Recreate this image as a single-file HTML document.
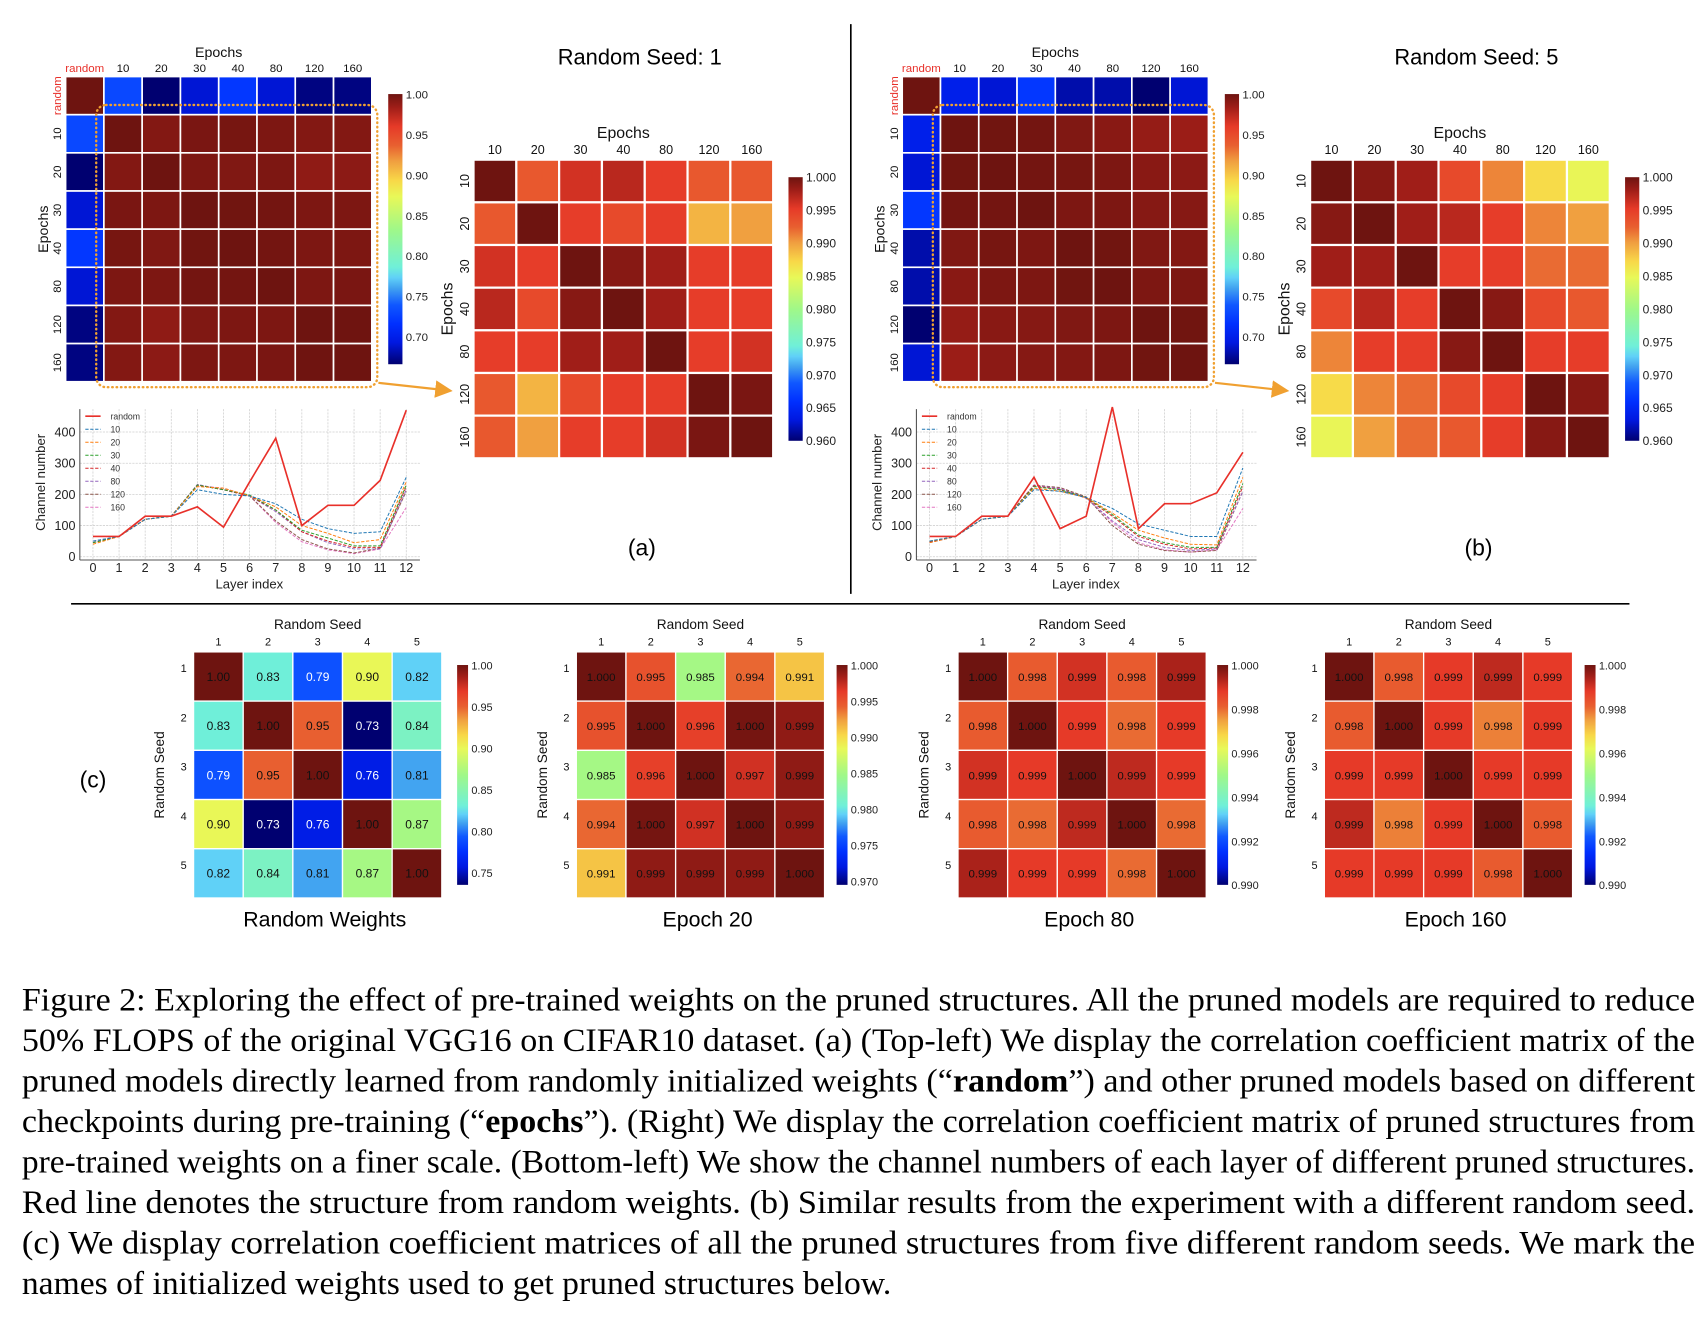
<!DOCTYPE html>
<html><head><meta charset="utf-8"><style>
html,body{margin:0;padding:0;background:#fff;}
svg{display:block;}
text{font-family:"Liberation Sans",sans-serif;}
text.cap{font-family:"Liberation Serif",serif;font-size:30px;fill:#000;}
</style></head><body>
<svg id="fig" width="1706" height="1318" viewBox="0 0 1560 1205" preserveAspectRatio="none" xmlns="http://www.w3.org/2000/svg">
<defs>
<linearGradient id="cmapGrad" x1="0" y1="1" x2="0" y2="0">
<stop offset="0" stop-color="#000070"/><stop offset="0.08" stop-color="#0018e0"/><stop offset="0.15" stop-color="#0030ff"/><stop offset="0.22" stop-color="#1058ff"/><stop offset="0.28" stop-color="#40a0f0"/><stop offset="0.32" stop-color="#60d0f8"/><stop offset="0.36" stop-color="#70f0d8"/><stop offset="0.5" stop-color="#a0f888"/><stop offset="0.62" stop-color="#e8f858"/><stop offset="0.68" stop-color="#f8d848"/><stop offset="0.75" stop-color="#f0a040"/><stop offset="0.81" stop-color="#e86030"/><stop offset="0.88" stop-color="#e63a28"/><stop offset="0.95" stop-color="#a01e18"/><stop offset="1" stop-color="#6e1410"/>
</linearGradient>
<marker id="arrowHead" markerWidth="8" markerHeight="8" refX="6" refY="4" orient="auto"><path d="M0,0 L8,4 L0,8 z" fill="#f0a030"/></marker>
</defs>
<line x1="778" y1="22" x2="778" y2="543" stroke="#000" stroke-width="1.5"/>
<line x1="65" y1="552" x2="1490" y2="552" stroke="#000" stroke-width="1.5"/>
<g id="root"></g>
<g>
<text class="cap" x="20" y="924" textLength="1530" lengthAdjust="spacingAndGlyphs">Figure 2: Exploring the effect of pre-trained weights on the pruned structures. All the pruned models are required to reduce</text>
<text class="cap" x="20" y="961" textLength="1530" lengthAdjust="spacingAndGlyphs">50% FLOPS of the original VGG16 on CIFAR10 dataset. (a) (Top-left) We display the correlation coefficient matrix of the</text>
<text class="cap" x="20" y="998" textLength="1530" lengthAdjust="spacingAndGlyphs">pruned models directly learned from randomly initialized weights (“<tspan font-weight="bold">random</tspan>”) and other pruned models based on different</text>
<text class="cap" x="20" y="1035" textLength="1530" lengthAdjust="spacingAndGlyphs">checkpoints during pre-training (“<tspan font-weight="bold">epochs</tspan>”). (Right) We display the correlation coefficient matrix of pruned structures from</text>
<text class="cap" x="20" y="1072" textLength="1530" lengthAdjust="spacingAndGlyphs">pre-trained weights on a finer scale. (Bottom-left) We show the channel numbers of each layer of different pruned structures.</text>
<text class="cap" x="20" y="1109" textLength="1530" lengthAdjust="spacingAndGlyphs">Red line denotes the structure from random weights. (b) Similar results from the experiment with a different random seed.</text>
<text class="cap" x="20" y="1146" textLength="1530" lengthAdjust="spacingAndGlyphs">(c) We display correlation coefficient matrices of all the pruned structures from five different random seeds. We mark the</text>
<text class="cap" x="20" y="1183" textLength="795" lengthAdjust="spacingAndGlyphs">names of initialized weights used to get pruned structures below.</text>
</g>
</svg>
<script>
// ---------- data ----------
const epochLabels = ["10","20","30","40","80","120","160"];
const coarseLabels = ["random","10","20","30","40","80","120","160"];
const seedLabels = ["1","2","3","4","5"];
const seed1RandomRow = [1.0,0.73,0.66,0.69,0.72,0.69,0.67,0.67];
const seed5RandomRow = [1.0,0.70,0.69,0.72,0.68,0.68,0.66,0.69];
const seed1Fine = [
 [1.000,0.993,0.996,0.997,0.995,0.993,0.993],
 [0.993,1.000,0.995,0.994,0.995,0.989,0.990],
 [0.996,0.995,1.000,0.999,0.998,0.995,0.995],
 [0.997,0.994,0.999,1.000,0.998,0.995,0.995],
 [0.995,0.995,0.998,0.998,1.000,0.995,0.996],
 [0.993,0.989,0.994,0.995,0.995,1.000,0.9995],
 [0.993,0.990,0.995,0.995,0.996,0.9995,1.000]];
const seed5Fine = [
 [1.000,0.999,0.998,0.994,0.991,0.987,0.985],
 [0.999,1.000,0.998,0.997,0.995,0.991,0.990],
 [0.998,0.998,1.000,0.995,0.995,0.992,0.992],
 [0.994,0.997,0.995,1.000,0.999,0.994,0.993],
 [0.991,0.995,0.995,0.999,1.000,0.995,0.995],
 [0.987,0.991,0.992,0.994,0.995,1.000,0.999],
 [0.985,0.990,0.992,0.993,0.995,0.999,1.000]];
const layerIdx = [0,1,2,3,4,5,6,7,8,9,10,11,12];
const seriesNames = ["random","10","20","30","40","80","120","160"];
const seed1Lines = [
 [65,65,130,130,160,95,240,380,100,165,165,245,470],
 [50,65,120,130,215,200,195,170,120,90,75,80,255],
 [40,65,120,130,225,220,195,160,100,75,45,55,240],
 [45,65,120,130,230,215,198,150,85,60,35,35,230],
 [45,65,120,130,230,215,195,150,80,50,30,30,225],
 [50,65,120,130,232,215,195,145,80,45,25,25,215],
 [45,65,120,130,230,215,195,115,55,25,12,28,210],
 [45,65,120,130,228,220,195,110,48,22,10,25,158]];
const seed5Lines = [
 [65,65,130,130,255,90,130,480,90,170,170,205,335],
 [50,65,120,130,215,210,190,155,105,85,65,65,285],
 [45,65,120,130,220,210,190,140,85,60,40,38,255],
 [50,65,120,130,225,215,190,135,70,45,30,30,235],
 [48,65,120,130,228,215,188,130,65,40,25,28,225],
 [48,65,120,130,230,218,188,115,55,30,20,25,210],
 [45,65,120,130,230,222,192,100,40,20,15,20,210],
 [45,65,120,130,228,220,190,110,45,22,15,22,155]];
const yTicksLine = [0,100,200,300,400];
const rwVals = [[1,.83,.79,.90,.82],[.83,1,.95,.73,.84],[.79,.95,1,.76,.81],[.90,.73,.76,1,.87],[.82,.84,.81,.87,1]];
const e20Vals = [[1,.995,.985,.994,.991],[.995,1,.996,.9998,.999],[.985,.996,1,.997,.999],[.994,.9998,.997,1,.999],[.991,.999,.999,.999,1]];
const e80Vals = [[1,.9982,.9990,.9982,.9994],[.9982,1,.9988,.9980,.9988],[.9990,.9988,1,.9992,.9988],[.9982,.9980,.9992,1,.9980],[.9994,.9988,.9988,.9980,1]];
const e160Vals = [[1,.9982,.9988,.9992,.9988],[.9982,1,.9988,.9978,.9988],[.9988,.9988,1,.9988,.9988],[.9992,.9978,.9988,1,.9982],[.9988,.9988,.9988,.9982,1]];
const rwTicks = [1.00,0.95,0.90,0.85,0.80,0.75];
const e20Ticks = [1.000,0.995,0.990,0.985,0.980,0.975,0.970];
const e80Ticks = [1.000,0.998,0.996,0.994,0.992,0.990];
const coarseTicks = [1.00,0.95,0.90,0.85,0.80,0.75,0.70];
const fineTicks = [1.000,0.995,0.990,0.985,0.980,0.975,0.970,0.965,0.960];

// ---------- helpers ----------
const NS="http://www.w3.org/2000/svg";
const root=document.getElementById('root');
function mk(tag,attrs,parent,txt){const e=document.createElementNS(NS,tag);for(const k in attrs)e.setAttribute(k,attrs[k]);if(txt!==undefined)e.textContent=txt;(parent||root).appendChild(e);return e;}
const stops=[[0,[0,0,112]],[0.08,[0,24,224]],[0.15,[0,48,255]],[0.22,[16,88,255]],[0.28,[64,160,240]],[0.32,[96,208,248]],[0.36,[112,240,216]],[0.5,[160,248,136]],[0.62,[232,248,88]],[0.68,[248,216,72]],[0.75,[240,160,64]],[0.81,[232,96,48]],[0.88,[230,58,40]],[0.95,[160,30,24]],[1,[110,20,16]]];
function cmap(t){t=Math.max(0,Math.min(1,t));for(let i=1;i<stops.length;i++){if(t<=stops[i][0]){const a=stops[i-1],b=stops[i];const f=(t-a[0])/(b[0]-a[0]);const c=a[1].map((v,j)=>Math.round(v+(b[1][j]-v)*f));return `rgb(${c[0]},${c[1]},${c[2]})`;}}return 'rgb(110,20,16)';}

function heatmap(o){
  const g=mk('g',{});
  
  
  const n=o.vals.length, m=o.vals[0].length;
  const cw=o.w/m, ch=o.h/n;
  for(let r=0;r<n;r++)for(let c=0;c<m;c++){
    const v=o.vals[r][c];const t=(v-o.vmin)/(o.vmax-o.vmin);
    const rc=mk('rect',{x:o.x+c*cw,y:o.y+r*ch,width:cw,height:ch,fill:cmap(t),stroke:'#fff','stroke-width':o.gap||1.5},g);
    
    
    if(o.fmt){const tx=mk('text',{x:o.x+(c+.5)*cw,y:o.y+(r+.5)*ch+4,'text-anchor':'middle','font-size':o.cellFont||10.5,fill:t<0.25?'#fff':'#111'},g,o.fmt(v));
      
      }
  }
  o.colLabels.forEach((l,i)=>{const tx=mk('text',{x:o.x+(i+.5)*cw,y:o.y-o.colOff,'text-anchor':'middle','font-size':o.labFont,fill:(l==='random')?'#e8302a':'#111'},g,l);
    
    });
  o.rowLabels.forEach((l,i)=>{
    let tx;
    if(o.rotRows){const cx=o.x-o.rowOff, cy=o.y+(i+.5)*ch;
      tx=mk('text',{x:cx,y:cy,'text-anchor':'middle','font-size':o.labFont,fill:(l==='random')?'#e8302a':'#111',transform:`rotate(-90 ${cx} ${cy})`},g,l);}
    else tx=mk('text',{x:o.x-o.rowOff,y:o.y+(i+.5)*ch-4,'text-anchor':'middle','font-size':o.labFont,fill:'#111'},g,l);
    
    });
  const tt=mk('text',{x:o.x+o.w/2,y:o.titleY,'text-anchor':'middle','font-size':o.titleFont,fill:'#111'},g,o.title);
  
  
  const yt=mk('text',{x:o.ytX,y:o.y+o.h/2,'text-anchor':'middle','font-size':o.ytFont,fill:'#111',transform:`rotate(-90 ${o.ytX} ${o.y+o.h/2})`},g,o.yTitle);
  
  
  const cb=o.cb;
  const cbr=mk('rect',{x:cb.x,y:cb.y0,width:cb.w,height:cb.y1-cb.y0,fill:'url(#cmapGrad)'},g);
  
  
  cb.ticks.forEach(tv=>{const yy=cb.y1-(tv-o.vmin)/(o.vmax-o.vmin)*(cb.y1-cb.y0);
    const tx=mk('text',{x:cb.x+cb.w+3,y:yy+4,'font-size':cb.font,fill:'#222'},g,tv.toFixed(cb.dec));
    
    });
  return g;
}
function withRandom(row,fine){const out=[row.slice()];for(let i=0;i<fine.length;i++){out.push([row[i+1]].concat(fine[i]));}return out;}

const colors=["#e8302a","#1f77b4","#ff7f0e","#2ca02c","#d62728","#9467bd","#8c564b","#e377c2"];
function lineChart(dx,lines,name){
  const g=mk('g',{});
  
  
  const X=i=>85+dx+i*23.875, Y=v=>509-v*0.285;
  layerIdx.forEach(i=>{mk('line',{x1:X(i),y1:374,x2:X(i),y2:511,stroke:'#d0d0d0','stroke-width':0.7,'stroke-dasharray':'2 1'},g);
    const t=mk('text',{x:X(i),y:523,'text-anchor':'middle','font-size':11.5,fill:'#222'},g,String(i));
    
    });
  yTicksLine.forEach(v=>{mk('line',{x1:73+dx,y1:Y(v),x2:384+dx,y2:Y(v),stroke:'#d0d0d0','stroke-width':0.7,'stroke-dasharray':'2 1'},g);
    const t=mk('text',{x:69+dx,y:Y(v)+4,'text-anchor':'end','font-size':11.5,fill:'#222'},g,String(v));
    
    });
  mk('line',{x1:73+dx,y1:374,x2:73+dx,y2:512,stroke:'#555','stroke-width':1},g);
  mk('line',{x1:73+dx,y1:512,x2:384+dx,y2:512,stroke:'#555','stroke-width':1},g);
  for(let s=lines.length-1;s>=0;s--){
    const pts=lines[s].map((v,i)=>X(layerIdx[i])+','+Y(v)).join(' ');
    const p=mk('polyline',{points:pts,fill:'none',stroke:colors[s],'stroke-width':s===0?1.5:0.9,'stroke-dasharray':s===0?'none':'3 1.5'},g);
    
    
  }
  seriesNames.forEach((n,i)=>{const yy=380.5+i*11.9;
    mk('line',{x1:78+dx,y1:yy,x2:92+dx,y2:yy,stroke:colors[i],'stroke-width':i===0?1.5:0.9,'stroke-dasharray':i===0?'none':'3 1.5'},g);
    const t=mk('text',{x:101+dx,y:yy+3,'font-size':8,fill:'#333'},g,n);
    
    });
  const yl=mk('text',{x:41+dx,y:441,'text-anchor':'middle','font-size':12,fill:'#222',transform:`rotate(-90 ${41+dx} 441)`},g,'Channel number');
  
  
  const xl=mk('text',{x:228+dx,y:538,'text-anchor':'middle','font-size':12,fill:'#222'},g,'Layer index');
  
  
}

function panel(dx,randRow,fine,lines,seed,letter){
  heatmap({name:'coarse-heatmap-seed'+seed,vals:withRandom(randRow,fine),vmin:0.666,vmax:1.0,x:60+dx,y:70,w:280,h:279,
    colLabels:coarseLabels,rowLabels:coarseLabels,colOff:4,rowOff:4,rotRows:true,labFont:10.5,titleY:52,titleFont:13,title:'Epochs',
    ytX:44+dx,ytFont:13,yTitle:'Epochs',gap:1.5,
    cb:{x:355+dx,w:13,y0:86,y1:333,ticks:coarseTicks,dec:2,font:10.5}});
  heatmap({name:'fine-heatmap-seed'+seed,vals:fine,vmin:0.96,vmax:1.0,x:433+dx,y:146,w:274,h:273,
    colLabels:epochLabels,rowLabels:epochLabels,colOff:5,rowOff:4,rotRows:true,labFont:11.5,titleY:126,titleFont:14.5,title:'Epochs',
    ytX:414+dx,ytFont:14.5,yTitle:'Epochs',gap:2,
    cb:{x:721+dx,w:13,y0:162,y1:403,ticks:fineTicks,dec:3,font:11}});
  const h=mk('text',{x:585+dx,y:59,'text-anchor':'middle','font-size':20,fill:'#000'},root,'Random Seed: '+seed);
  
  
  const l=mk('text',{x:587+dx,y:508,'text-anchor':'middle','font-size':21,fill:'#000'},root,'('+letter+')');
  
  
  const r=mk('rect',{x:88+dx,y:96,width:257,height:258,rx:9,fill:'none',stroke:'#f0a030','stroke-width':2.2,'stroke-dasharray':'0.5 3.5','stroke-linecap':'round'});
  
  
  const a=mk('line',{x1:346+dx,y1:350,x2:410+dx,y2:357,stroke:'#f0a030','stroke-width':2,'marker-end':'url(#arrowHead)'});
  
  
  lineChart(dx,lines,'channel-line-chart-seed'+seed);
}
panel(0,seed1RandomRow,seed1Fine,seed1Lines,1,'a');
panel(765,seed5RandomRow,seed5Fine,seed5Lines,5,'b');

const bottom=[
 {name:'random-weights',vals:rwVals,vmin:0.735,vmax:1.0,x:177,ticks:rwTicks,dec:2,cbx:418,sub:'Random Weights',fmt:v=>v.toFixed(2)},
 {name:'epoch-20',vals:e20Vals,vmin:0.9695,vmax:1.0,x:527,ticks:e20Ticks,dec:3,cbx:765,sub:'Epoch 20',fmt:v=>v.toFixed(3)},
 {name:'epoch-80',vals:e80Vals,vmin:0.990,vmax:1.0,x:876,ticks:e80Ticks,dec:3,cbx:1113,sub:'Epoch 80',fmt:v=>v.toFixed(3)},
 {name:'epoch-160',vals:e160Vals,vmin:0.990,vmax:1.0,x:1211,ticks:e80Ticks,dec:3,cbx:1449,sub:'Epoch 160',fmt:v=>v.toFixed(3)}];
bottom.forEach(b=>{
  heatmap({name:b.name+'-heatmap',vals:b.vals,vmin:b.vmin,vmax:b.vmax,x:b.x,y:596,w:227,h:225,
    colLabels:seedLabels,rowLabels:seedLabels,colOff:6,rowOff:9,rotRows:false,labFont:10,titleY:575,titleFont:12.5,title:'Random Seed',
    ytX:b.x-27,ytFont:12.5,yTitle:'Random Seed',gap:1.2,fmt:b.fmt,cellFont:b.dec===2?11:10.5,
    cb:{x:b.cbx,w:10,y0:608,y1:809,ticks:b.ticks,dec:b.dec,font:10}});
  const s=mk('text',{x:b.x+120,y:847,'text-anchor':'middle','font-size':19.5,fill:'#000'},root,b.sub);
  
  
});
const c=mk('text',{x:85,y:720,'text-anchor':'middle','font-size':21,fill:'#000'},root,'(c)');


</script>
</body></html>
